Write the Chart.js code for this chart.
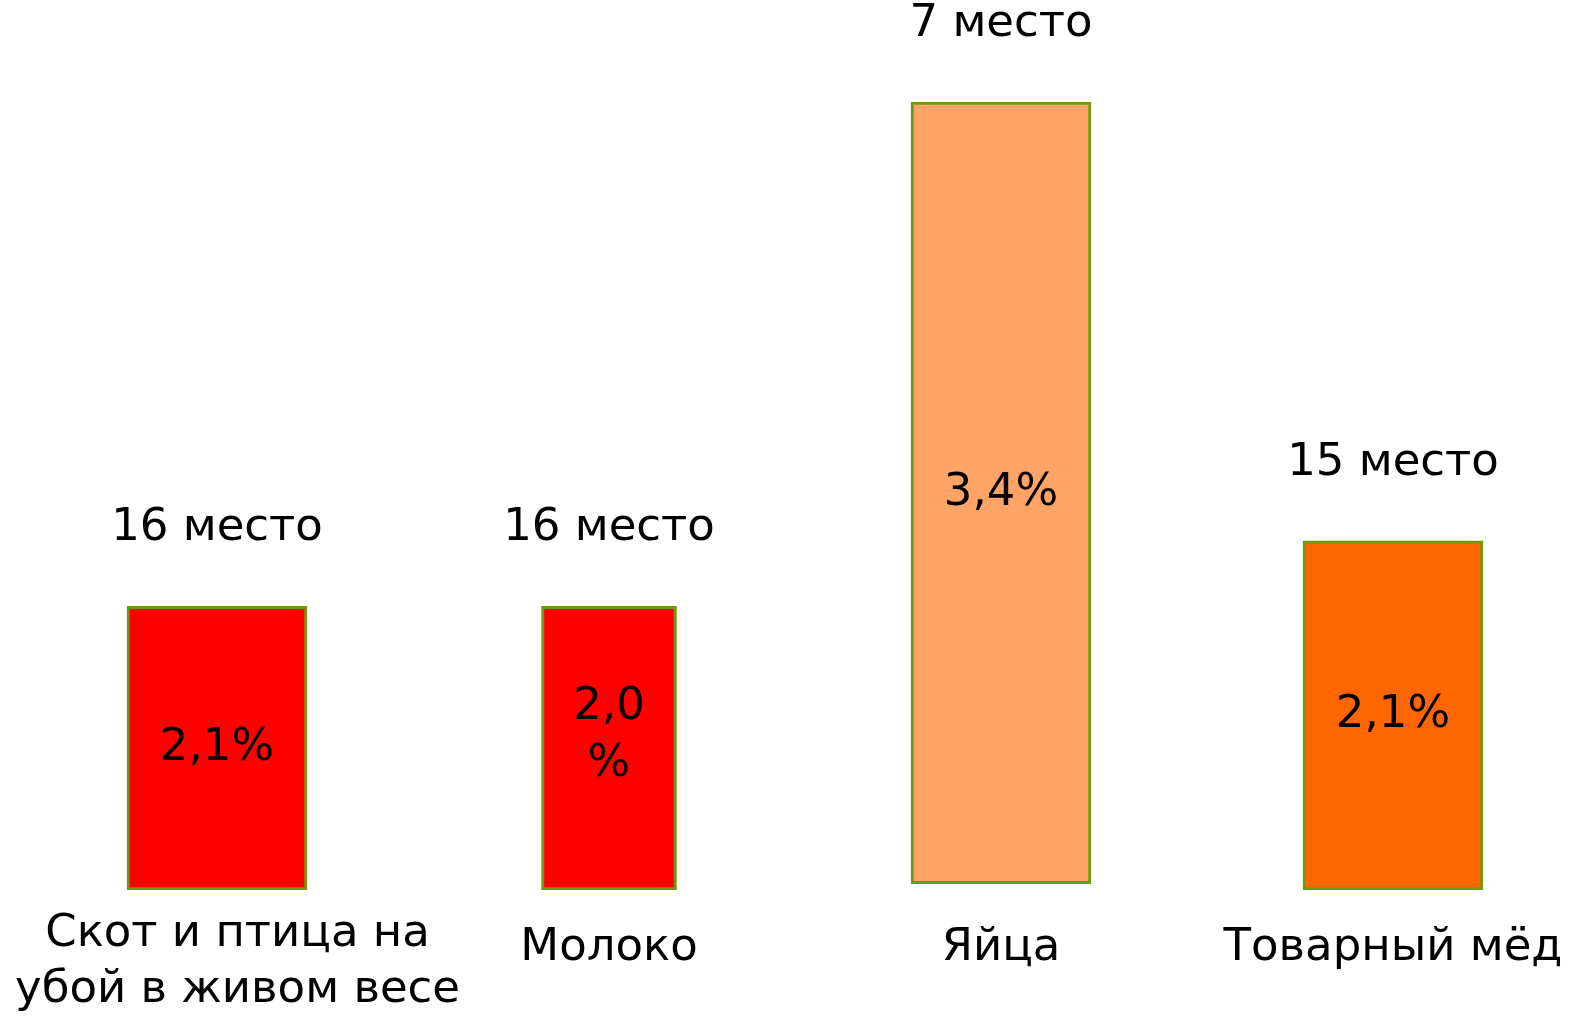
<!DOCTYPE html>
<html>
<head>
<meta charset="utf-8">
<script src="https://cdn.jsdelivr.net/npm/chart.js@4"></script>
<style>
  html, body { margin: 0; padding: 0; background: #fff; overflow: hidden; }
  #wrap { width: 1589px; height: 1023px; position: relative; }
  canvas { display: block; }
</style>
</head>
<body>
<div id="wrap"><canvas id="c"></canvas></div>
<script>
// категории и подписи
const categories = [['Скот и птица на', 'убой в живом весе'], ['Молоко'], ['Яйца'], ['Товарный мёд']];
// доля (подписи внутри столбцов)
const shareLabels = [['2,1%'], ['2,0', '%'], ['3,4%'], ['2,1%']];
// место региона
const ranks = ['16 место', '16 место', '7 место', '15 место'];
// низ и верх столбцов, как на картинке (в условных единицах 0..100)
const barBases = [0, 0, 0.8, 0];
const barTops = [36, 36, 100, 44.3];

const barColors = ['#ff0000', '#ff0000', '#ffa366', '#ff6600'];
const barWidths = [180, 135, 180, 180];
const FONT = '"DejaVu Sans", sans-serif';

// подписи над, внутри и под столбцами
const labelsPlugin = {
  id: 'labels',
  afterDatasetsDraw(chart) {
    const ctx = chart.ctx;
    const zeroY = chart.scales.y.getPixelForValue(0);
    ctx.save();
    ctx.fillStyle = '#000';
    ctx.font = '45px ' + FONT;
    chart.data.datasets.forEach((ds, i) => {
      const bar = chart.getDatasetMeta(i).data[i];
      if (!bar) return;
      const x = bar.x, top = bar.y, bottom = bar.base;
      // место
      ctx.textAlign = 'center';
      ctx.textBaseline = 'alphabetic';
      ctx.fillText(ranks[i], x, top - 66);
      // доля
      ctx.textBaseline = 'middle';
      const lines = shareLabels[i];
      const lh = 57;
      const y0 = (top + bottom) / 2 - (lines.length - 1) * lh / 2 - (lines.length - 1) * 12;
      lines.forEach((t, k) => ctx.fillText(t, x, y0 + k * lh));
      // категория
      ctx.textBaseline = 'alphabetic';
      const cat = categories[i];
      const w = Math.max(...cat.map(t => ctx.measureText(t).width));
      let cx = x;
      if (cx - w / 2 < 15) cx = 15 + w / 2;
      if (cx + w / 2 > chart.width - 5) cx = chart.width - 5 - w / 2;
      const first = cat.length > 1 ? zeroY + 56 : zeroY + 70;
      cat.forEach((t, k) => ctx.fillText(t, cx, first + k * 56));
    });
    ctx.restore();
  }
};

const datasets = barTops.map((h, i) => ({
  label: categories[i].join(' '),
  data: barTops.map((v, j) => j === i ? [barBases[j], v] : null),
  backgroundColor: barColors[i],
  borderColor: '#6f9a0e',
  borderWidth: 3,
  borderSkipped: false,
  barThickness: barWidths[i],
  grouped: false
}));

new Chart(document.getElementById('c'), {
  type: 'bar',
  data: { labels: categories.map(c => c.join(' ')), datasets },
  options: {
    responsive: true,
    maintainAspectRatio: false,
    animation: false,
    layout: { padding: { top: 102, bottom: 133, left: 21, right: 0 } },
    plugins: { legend: { display: false }, tooltip: { enabled: false } },
    scales: {
      x: { display: false },
      y: { display: false, min: 0, max: 100 }
    }
  },
  plugins: [labelsPlugin]
});
</script>
</body>
</html>
